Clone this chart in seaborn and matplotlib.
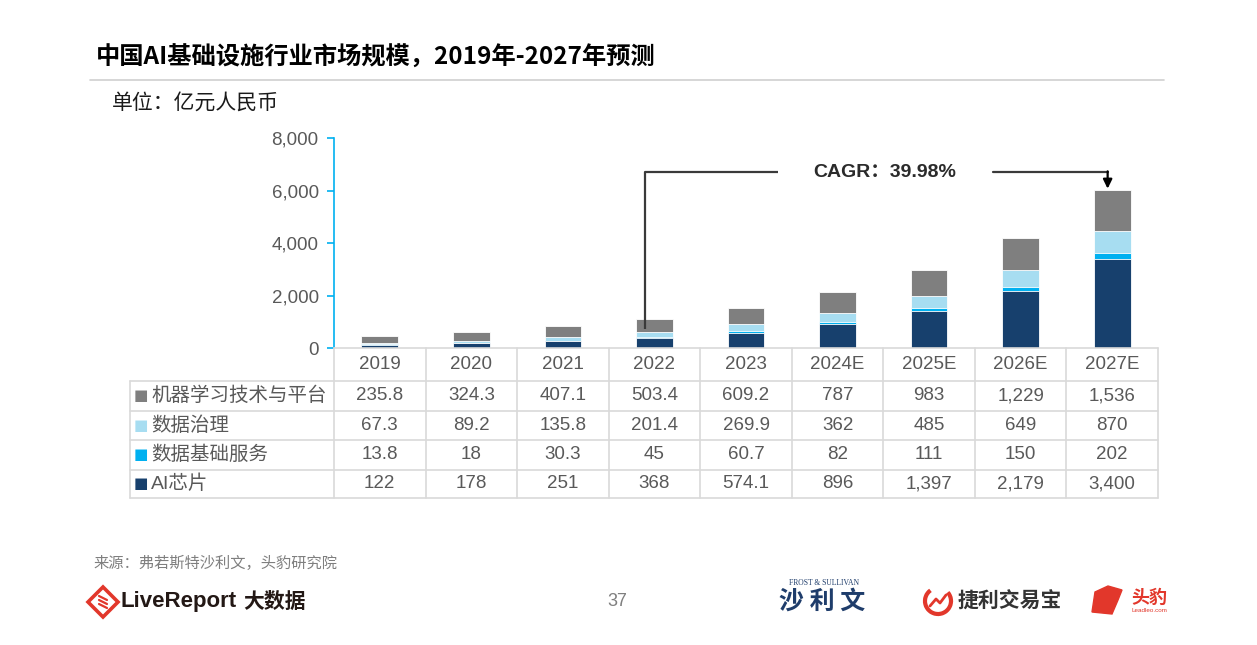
import numpy as np
import pandas as pd
import matplotlib
matplotlib.use("Agg")
import matplotlib.pyplot as plt
import matplotlib.transforms as mtransforms
from matplotlib.lines import Line2D
from matplotlib.patches import Polygon, Circle, Arc, FancyArrowPatch
import seaborn as sns

# ---------------- data ----------------
years = ['2019', '2020', '2021', '2022', '2023', '2024E', '2025E', '2026E', '2027E']
ml_platform = [235.8, 324.3, 407.1, 503.4, 609.2, 787, 983, 1229, 1536]
data_governance = [67.3, 89.2, 135.8, 201.4, 269.9, 362, 485, 649, 870]
data_infra_service = [13.8, 18, 30.3, 45, 60.7, 82, 111, 150, 202]
ai_chip = [122, 178, 251, 368, 574.1, 896, 1397, 2179, 3400]
series_names = ['机器学习技术与平台', '数据治理', '数据基础服务', 'AI芯片']
yticks = [0, 2000, 4000, 6000, 8000]
cagr_text = 'CAGR：39.98%'

title = '中国AI基础设施行业市场规模，2019年-2027年预测'
unit = '单位：亿元人民币'
source = '来源：弗若斯特沙利文，头豹研究院'

# ---------------- style ----------------
sns.set_theme(style="white")
plt.rcParams['font.family'] = ['Liberation Sans', 'Noto Sans CJK SC', 'DejaVu Sans']
CJK = ['Noto Sans CJK SC', 'DejaVu Sans']

c_gray = '#7F7F7F'
c_light = '#A7DDF1'
c_bright = '#00B0F0'
c_navy = '#17406D'
series_colors = [c_gray, c_light, c_bright, c_navy]
txt_gray = '#595959'
grid_c = '#D9D9D9'

W, H = 1257, 645
fig = plt.figure(figsize=(W / 100, H / 100), dpi=100)
fig.patch.set_facecolor('white')

def fx(px):
    return px / W

def fy(py):
    return 1 - py / H

ax_left, ax_right, ax_top, ax_bot = 334, 1158, 138, 348
ax = fig.add_axes([fx(ax_left), fy(ax_bot), fx(ax_right - ax_left), (ax_bot - ax_top) / H])

# cumulative stacks (drawn largest first so smaller layers overlay)
df = pd.DataFrame({'year': years, 'ml': ml_platform, 'gov': data_governance,
                   'svc': data_infra_service, 'chip': ai_chip})
df['c1'] = df['chip']
df['c2'] = df['c1'] + df['svc']
df['c3'] = df['c2'] + df['gov']
df['c4'] = df['c3'] + df['ml']

for col, color in zip(['c4', 'c3', 'c2', 'c1'], series_colors):
    sns.barplot(data=df, x='year', y=col, order=years, color=color, saturation=1,
                width=0.4, errorbar=None, edgecolor='white', linewidth=0.6, ax=ax)

ax.set_xlim(-0.5, len(years) - 0.5)
ax.set_ylim(0, 8000)
ax.set_yticks(yticks)
ax.set_yticklabels([f'{v:,}' for v in yticks], color=txt_gray, fontsize=13.5)
ax.set_xticks([])
ax.set_xlabel('')
ax.set_ylabel('')
for s in ['top', 'right', 'bottom']:
    ax.spines[s].set_visible(False)
ax.spines['left'].set_color(c_bright)
ax.spines['left'].set_linewidth(1.2)
ax.tick_params(axis='y', which='major', left=True, length=5, width=1.2, color=c_bright, pad=6)
ax.patch.set_alpha(0)

# ---------------- CAGR annotation ----------------
line_c = '#3A3A3A'
y_line = 6700
x_start = 3 - 0.1
x_end = 8 - 0.05
ax.plot([x_start, x_start, 4.35], [720, y_line, y_line], color=line_c, lw=1.6,
        solid_capstyle='butt', clip_on=False)
ax.plot([6.70, x_end], [y_line, y_line], color=line_c, lw=1.6, clip_on=False)
ax.annotate('', xy=(x_end, df['c4'].iloc[-1] + 60), xytext=(x_end, y_line + 30),
            arrowprops=dict(arrowstyle='-|>,head_length=0.45,head_width=0.22',
                            color='black', lw=1.6, shrinkA=0, shrinkB=0))
ax.text(5.52, y_line, cagr_text, ha='center', va='center', fontsize=14,
        fontweight='bold', color='#2B2B2B', family=['Liberation Sans', 'Noto Sans CJK SC'])

# ---------------- data table ----------------
btr = mtransforms.blended_transform_factory(ax.transData, fig.transFigure)
row_edges = [348, 381, 410.5, 440, 469.5, 498]
tab_left = 130

def fmt(v):
    if float(v).is_integer():
        return f'{int(v):,}'
    return f'{v:,.1f}'

# horizontal lines
fig.add_artist(Line2D([fx(ax_left), fx(ax_right)], [fy(348), fy(348)], color=grid_c, lw=1.2))
for yy in row_edges[1:]:
    fig.add_artist(Line2D([fx(tab_left), fx(ax_right)], [fy(yy), fy(yy)], color=grid_c, lw=1.2))
# vertical lines
fig.add_artist(Line2D([fx(tab_left), fx(tab_left)], [fy(381), fy(498)], color=grid_c, lw=1.2))
for i in range(len(years) + 1):
    xb = i - 0.5
    fig.add_artist(Line2D([xb, xb], [fy(348), fy(498)], color=grid_c, lw=1.2, transform=btr))

# header years
for i, yr in enumerate(years):
    ax.text(i, fy(364.5), yr, transform=btr, ha='center', va='center', fontsize=13.5,
            color=txt_gray, clip_on=False)

rows = [ml_platform, data_governance, data_infra_service, ai_chip]
for r, (name, vals, color) in enumerate(zip(series_names, rows, series_colors)):
    yc = (row_edges[r + 1] + row_edges[r + 2]) / 2
    fig.text(fx(141), fy(yc), '■', ha='center', va='center', fontsize=11, color=color,
             family=['DejaVu Sans'])
    fig.text(fx(151), fy(yc), name, ha='left', va='center', fontsize=14, color=txt_gray,
             family=['Liberation Sans', 'Noto Sans CJK SC'])
    for i, v in enumerate(vals):
        ax.text(i, fy(yc), fmt(v), transform=btr, ha='center', va='center', fontsize=13.5,
                color=txt_gray, clip_on=False)

# ---------------- titles ----------------
fig.text(fx(96), fy(58), title, ha='left', va='center', fontsize=17.5, fontweight='bold',
         color='black', family=CJK)
fig.add_artist(Line2D([fx(90), fx(1164)], [fy(80), fy(80)], color='#D0D0D0', lw=1.2))
fig.text(fx(112), fy(103), unit, ha='left', va='center', fontsize=15, color='#1A1A1A',
         family=CJK)
fig.text(fx(93), fy(563), source, ha='left', va='center', fontsize=11, color='#7F7F7F',
         family=CJK)
fig.text(fx(617), fy(601), '37', ha='center', va='center', fontsize=13, color='#7F7F7F')

# ---------------- footer logos (approximations) ----------------
red = '#E2372B'
cx, cy, r = 103, 602, 15
diamond = Polygon([[fx(cx), fy(cy - r)], [fx(cx + r), fy(cy)], [fx(cx), fy(cy + r)],
                   [fx(cx - r), fy(cy)]], closed=True, fill=False, edgecolor=red, lw=2.6,
                  transform=fig.transFigure)
fig.add_artist(diamond)
for dy in (-4, 0, 4):
    fig.add_artist(Line2D([fx(cx - 4), fx(cx + 4)], [fy(cy + dy - 2), fy(cy + dy + 2)],
                          color=red, lw=1.6))
fig.text(fx(121), fy(601), 'LiveReport', ha='left', va='center', fontsize=16,
         fontweight='bold', color='#231815', family=['Liberation Sans'])
fig.text(fx(243), fy(601), '大数据', ha='left', va='center', fontsize=15,
         fontweight='bold', color='#231815', family=CJK)

navy_logo = '#1F3D6B'
fig.text(fx(824), fy(583), 'FROST & SULLIVAN', ha='center', va='center', fontsize=5.5,
         color=navy_logo, family=['Liberation Serif'])
fig.text(fx(822), fy(602), '沙 利 文', ha='center', va='center', fontsize=18,
         fontweight='bold', color=navy_logo, family=CJK)

fig.add_artist(Arc((fx(938), fy(601)), 26 / W, 26 / H, theta1=110, theta2=420,
                   color=red, lw=3, transform=fig.transFigure))
fig.add_artist(Line2D([fx(930), fx(936), fx(940), fx(946)], [fy(606), fy(599), fy(603), fy(595)],
                      color=red, lw=2))
fig.text(fx(958), fy(601), '捷利交易宝', ha='left', va='center', fontsize=15,
         fontweight='bold', color='#333333', family=CJK)

fig.add_artist(Polygon([[fx(1092), fy(612)], [fx(1095), fy(592)], [fx(1108), fy(586)],
                        [fx(1122), fy(590)], [fx(1118), fy(600)], [fx(1112), fy(614)]],
                       closed=True, facecolor=red, edgecolor=red, transform=fig.transFigure))
fig.text(fx(1131), fy(597), '头豹', ha='left', va='center', fontsize=13,
         fontweight='bold', color=red, family=CJK)
fig.text(fx(1131), fy(611), 'Leadleo.com', ha='left', va='center', fontsize=4.5,
         color=red)

fig.savefig('out.png', dpi=100, facecolor='white')
